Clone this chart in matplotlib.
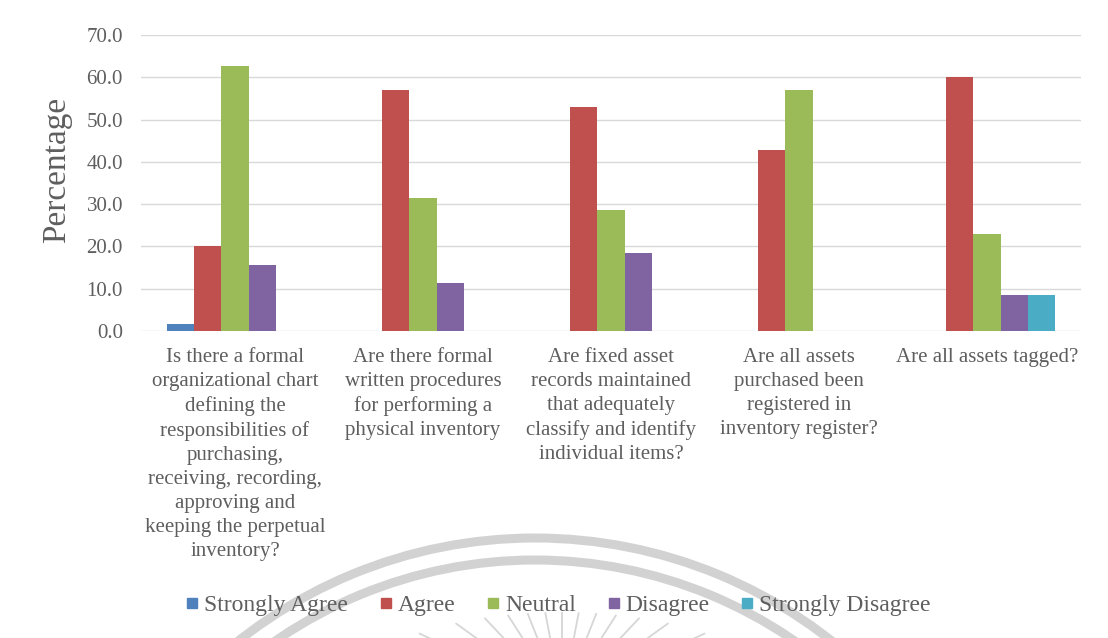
import numpy as np
import matplotlib
matplotlib.use("Agg")
import matplotlib.pyplot as plt
from matplotlib.patches import Arc
from matplotlib.lines import Line2D

# Survey results (percentage of respondents)
questions = [
    "Is there a formal\norganizational chart\ndefining the\nresponsibilities of\npurchasing,\nreceiving, recording,\napproving and\nkeeping the perpetual\ninventory?",
    "Are there formal\nwritten procedures\nfor performing a\nphysical inventory",
    "Are fixed asset\nrecords maintained\nthat adequately\nclassify and identify\nindividual items?",
    "Are all assets\npurchased been\nregistered in\ninventory register?",
    "Are all assets tagged?",
]
series_names = ["Strongly Agree", "Agree", "Neutral", "Disagree", "Strongly Disagree"]
strongly_agree = [1.6, 0.0, 0.0, 0.0, 0.0]
agree = [20.0, 57.1, 52.9, 42.9, 60.0]
neutral = [62.7, 31.4, 28.5, 57.1, 22.9]
disagree = [15.6, 11.4, 18.5, 0.0, 8.6]
strongly_disagree = [0.0, 0.0, 0.0, 0.0, 8.6]
y_ticks = [0, 10, 20, 30, 40, 50, 60, 70]

colors = ["#4F81BD", "#C0504D", "#9BBB59", "#8064A2", "#4BACC6"]
text_color = "#5E5E5E"
serif = ["Liberation Serif", "DejaVu Serif"]

plt.rcParams["font.family"] = serif

fig = plt.figure(figsize=(11.08, 6.38), dpi=100)
fig.patch.set_facecolor("white")

# faint seal in the background (pixel coordinates, y downwards)
W, H = 1108, 638
bg = fig.add_axes([0, 0, 1, 1], zorder=0)
bg.set_xlim(0, W)
bg.set_ylim(H, 0)
bg.axis("off")
cx, cy = 535, 1017
for r in (479, 457):
    bg.add_patch(Arc((cx, cy), 2 * r, 2 * r, theta1=0, theta2=360,
                     lw=6.5, color="#D2D2D2"))
rcx, rcy = 562, 700
ea, eb = 220, 87
for ang in np.linspace(25, 155, 13):
    a = np.deg2rad(ang)
    r_top = 1 / np.sqrt(np.cos(a) ** 2 / ea ** 2 + np.sin(a) ** 2 / eb ** 2)
    r_bot = 0.3 * r_top
    bg.plot([rcx + r_top * np.cos(a), rcx + r_bot * np.cos(a)],
            [rcy - r_top * np.sin(a), rcy - r_bot * np.sin(a)],
            color="#D6D6D6", lw=1.3)

ax = fig.add_axes([141 / W, 1 - 331 / H, 940 / W, 296 / H], zorder=1)
ax.patch.set_alpha(0)

data = [strongly_agree, agree, neutral, disagree, strongly_disagree]
x = np.arange(len(questions))
group = 0.727
bw = group / len(series_names)
for i, (name, vals, c) in enumerate(zip(series_names, data, colors)):
    offs = (i - (len(series_names) - 1) / 2) * bw
    ax.bar(x + offs, vals, width=bw, color=c, label=name, zorder=3,
           linewidth=0)

ax.set_xlim(-0.5, len(questions) - 0.5)
ax.set_ylim(0, 70)
ax.set_yticks(y_ticks)
ax.set_yticklabels([f"{v:.1f}" for v in y_ticks])
ax.yaxis.grid(True, color="#D9D9D9", lw=1, zorder=0)
ax.set_axisbelow(True)
for s in ax.spines.values():
    s.set_visible(False)
ax.tick_params(axis="y", length=0, pad=13, labelsize=15, labelcolor=text_color)
ax.tick_params(axis="x", length=0, pad=12, labelsize=15, labelcolor=text_color)
ax.set_xticks(x)
ax.set_xticklabels(questions, ha="center", va="top", linespacing=1.36)
ax.set_ylabel("Percentage", fontsize=24, color=text_color, va="center")
ax.yaxis.set_label_coords(-0.089, 0.545)

handles = [Line2D([], [], marker="s", ls="", color=c, markersize=7.5) for c in colors]
fig.legend(handles, series_names, loc="center", bbox_to_anchor=(558 / W, 1 - 605 / H),
           ncol=5, frameon=False, fontsize=17, handletextpad=0.2,
           columnspacing=1.3, labelcolor=text_color, handlelength=0.6)

fig.savefig("out.png", dpi=100, facecolor="white")
